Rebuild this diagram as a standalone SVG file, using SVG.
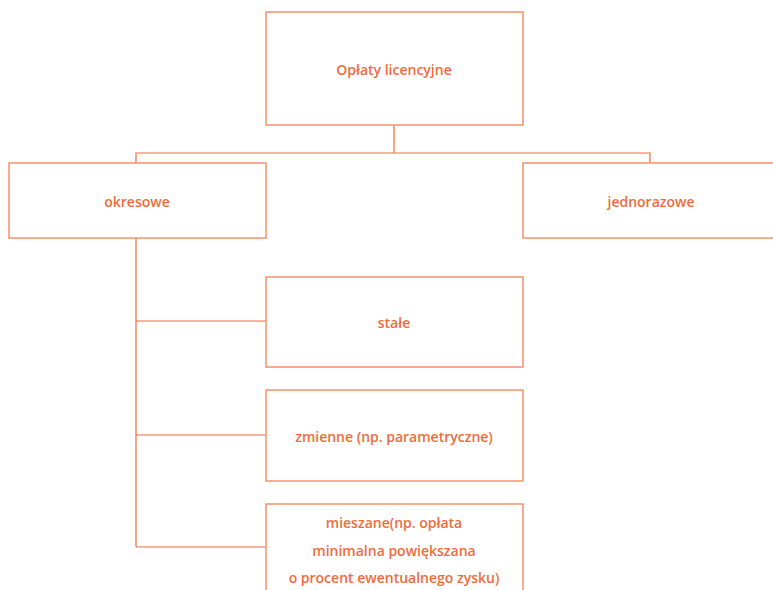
<svg xmlns="http://www.w3.org/2000/svg" width="773" height="590" viewBox="0 0 773 590">
<style>
.box{fill:#ffffff;stroke:#F7906A;stroke-width:1.5}
.lbl{font-family:"Open Sans","Liberation Sans",Arial,sans-serif;font-size:14px;font-weight:600;fill:#F26B3A;text-anchor:middle}
.con{fill:none;stroke:#F26B3A;stroke-width:1.2}
</style>
<rect width="773" height="590" fill="#ffffff"/>
<g id="connectors">
<path class="con" d="M394,125 V153 M136,163 V153 H650 V163"/>
<path class="con" d="M136,238 V547 M136,321 H266 M136,435 H266 M136,547 H266"/>
</g>
<g id="n-oplaty"><rect class="box" x="266" y="12" width="257" height="113"/><text class="lbl" x="394" y="75">Opłaty licencyjne</text></g>
<g id="n-okresowe"><rect class="box" x="9" y="163" width="257" height="75"/><text class="lbl" x="137" y="207">okresowe</text></g>
<g id="n-jednorazowe"><rect class="box" x="523" y="163" width="257" height="75"/><text class="lbl" x="651" y="207">jednorazowe</text></g>
<g id="n-stale"><rect class="box" x="266" y="277" width="257" height="90"/><text class="lbl" x="394" y="328">stałe</text></g>
<g id="n-zmienne"><rect class="box" x="266" y="390" width="257" height="91"/><text class="lbl" x="394" y="442">zmienne (np. parametryczne)</text></g>
<g id="n-mieszane"><rect class="box" x="266" y="504" width="257" height="100"/>
<text class="lbl" x="394" y="528">mieszane(np. opłata</text>
<text class="lbl" x="394" y="556">minimalna powiększana</text>
<text class="lbl" x="394" y="583">o procent ewentualnego zysku)</text></g>
</svg>
